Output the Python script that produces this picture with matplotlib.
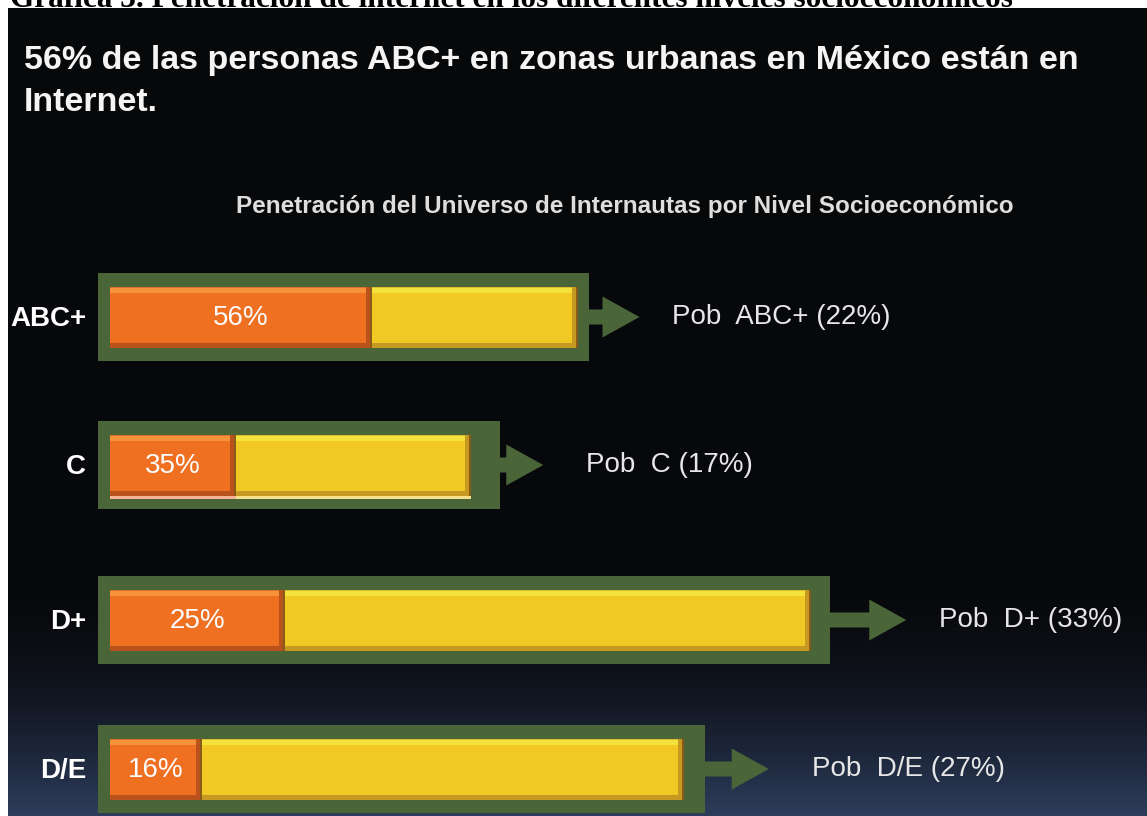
import numpy as np
import matplotlib
matplotlib.use("Agg")
import matplotlib.pyplot as plt
from matplotlib.patches import FancyArrow
from matplotlib.colors import to_rgb

# ---------------- data ----------------
categories = ["ABC+", "C", "D+", "D/E"]
penetration = [56, 35, 25, 16]          # % internet users within level
population = [22, 17, 33, 27]           # % of population (bar length)
pob_labels = ["Pob  ABC+ (22%)", "Pob  C (17%)", "Pob  D+ (33%)", "Pob  D/E (27%)"]

header = "Gráfica 3. Penetración de internet en los diferentes niveles socioeconómicos"
title_lines = ["56% de las personas ABC+ en zonas urbanas en México están en", "Internet."]
subtitle = "Penetración del Universo de Internautas por Nivel Socioeconómico"

# ---------------- layout (pixels) ----------------
W, H = 1147, 816
X0 = 110                 # pixel where 0 % population is
PX_PER_UNIT = 21.25      # pixels per population percentage point
ROW_Y = [317, 465, 620, 769]
BOX_PAD_L = 12
BOX_PAD_R = [11, 29, 19, 21]
SHAFT_LEN = [14, 6, 39, 27]
TEXT_GAP = [33, 43, 33, 43]
BOX_H = 88
BAR_H = 61
HEAD_LEN, HEAD_H, SHAFT_H = 37, 41, 15
TITLE_BASE = [69, 111]

GREEN = "#4a6638"
ORANGE = "#f07022"
ORANGE_HI = "#f5923a"
ORANGE_LO = "#b9531b"
YELLOW = "#f2c825"
YELLOW_HI = "#f3e23c"
YELLOW_LO = "#c69a22"
EDGE_DARK = "#8a5a18"

u = 1.0 / PX_PER_UNIT    # units per pixel

fig = plt.figure(figsize=(W / 100, H / 100), dpi=100, facecolor="white")

# header text (cut off by the dark panel)
fig.text(10 / W, 1 - 7 / H, header, family="Liberation Serif", weight="bold",
         fontsize=22.5, color="black", ha="left", va="baseline", zorder=-5)

# background panel with gradient
bg = fig.add_axes([8 / W, 0, 1 - 8 / W, 1 - 8 / H], zorder=0)
stops_y = [0, 600, 655, 700, 750, 790, 816]
stops_c = ["#07080a", "#08090c", "#0c0f15", "#121723", "#1c2538", "#27344e", "#2e3d5b"]
yy = np.arange(8, 816)
cols = np.array([to_rgb(c) for c in stops_c])
grad = np.stack([np.interp(yy, stops_y, cols[:, k]) for k in range(3)], axis=-1)
bg.imshow(grad[:, None, :], aspect="auto", extent=[0, 1, 816, 8])
bg.set_xlim(0, 1)
bg.set_ylim(816, 8)
bg.axis("off")

# main axes: x in population %, y in pixel rows
ax = fig.add_axes([0, 0, 1, 1], zorder=1)
ax.patch.set_alpha(0)
ax.set_xlim(-X0 * u, (W - X0) * u)
ax.set_ylim(H, 0)
ax.axis("off")

for line, base in zip(title_lines, TITLE_BASE):
    ax.text(-(X0 - 24) * u, base, line, fontsize=24.5, weight="bold", color="#f4f4f4",
            family="Liberation Sans", ha="left", va="baseline", zorder=6)
ax.text((625 - X0) * u, 213, subtitle, fontsize=17.5, weight="bold", color="#dedede",
        family="Liberation Sans", ha="center", va="baseline", zorder=6)

for i, (cat, pen, pob, lab) in enumerate(zip(categories, penetration, population, pob_labels)):
    y = ROW_Y[i]
    box_left = -BOX_PAD_L * u
    box_right = pob + BOX_PAD_R[i] * u
    # green frame
    ax.barh(y, box_right - box_left, left=box_left, height=BOX_H, color=GREEN, zorder=2)
    # arrow
    ax.add_patch(FancyArrow(box_right - 1 * u, y, (SHAFT_LEN[i] + HEAD_LEN + 1) * u, 0,
                            width=SHAFT_H, head_width=HEAD_H, head_length=HEAD_LEN * u,
                            length_includes_head=True, color=GREEN, lw=0, zorder=2))
    # stacked bar segments
    o = pob * pen / 100.0
    segs = [(0, o, ORANGE, ORANGE_HI, ORANGE_LO), (o, pob, YELLOW, YELLOW_HI, YELLOW_LO)]
    for (a, b, c, hi, lo) in segs:
        ax.barh(y, b - a, left=a, height=BAR_H, color=c, zorder=3)
        top = y - BAR_H / 2
        bot = y + BAR_H / 2
        # top highlight
        ax.barh(top + 3, b - a, left=a, height=6, color=hi, zorder=4)
        ax.barh(top + 0.8, b - a, left=a, height=1.6, color=lo, alpha=0.5, zorder=4)
        # bottom shadow
        ax.barh(bot - 2.5, b - a, left=a, height=5, color=lo, zorder=4)
        # right edge bevel
        ax.barh(y, 6 * u, left=b - 6 * u, height=BAR_H, color=lo, zorder=4)
        ax.barh(y, 2 * u, left=b - 2 * u, height=BAR_H, color=EDGE_DARK, zorder=4)
    if cat == "C":
        ax.barh(y + BAR_H / 2 + 2, o, left=0, height=3, color="#f6b493", zorder=4)
        ax.barh(y + BAR_H / 2 + 2, pob - o, left=o, height=3, color="#f7e08c", zorder=4)
    # percentage label
    ax.text(o / 2, y + 1, f"{pen}%", fontsize=20, color="#fbfbfb", ha="center",
            va="center", family="Liberation Sans", zorder=6)
    # category label
    ax.text(-24 * u, y + 2, cat, fontsize=20, weight="bold", color="white",
            ha="right", va="center", family="Liberation Sans", zorder=6)
    # population label
    tx = box_right + (SHAFT_LEN[i] + HEAD_LEN + TEXT_GAP[i]) * u
    ax.text(tx, y, lab, fontsize=20, color="#e6e6e6", ha="left", va="center",
            family="Liberation Sans", zorder=6)

fig.savefig("out.png", dpi=100, facecolor="white")
